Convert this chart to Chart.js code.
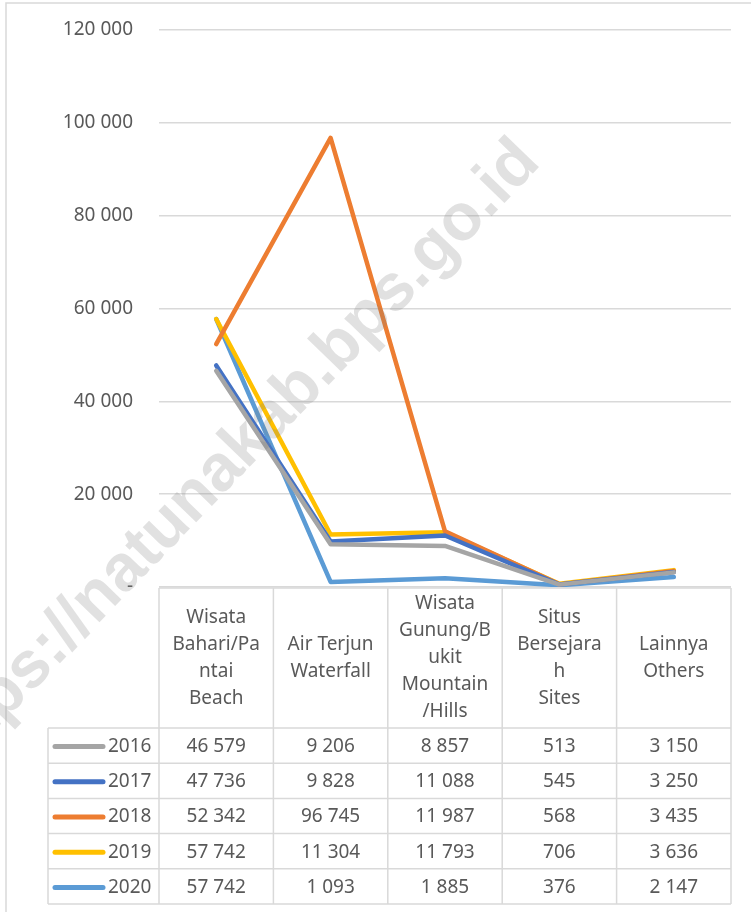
<!DOCTYPE html>
<html>
<head>
<meta charset="utf-8">
<script src="https://cdn.jsdelivr.net/npm/chart.js@4/dist/chart.umd.min.js"></script>
<style>
  html, body { margin: 0; padding: 0; background: #fff; }
  canvas { display: block; }
</style>
</head>
<body>
<canvas id="chart" width="751" height="912"></canvas>
<script>
// category labels, wrapped the way the data table shows them
const categories = [
  ["Wisata", "Bahari/Pa", "ntai", "Beach"],
  ["Air Terjun", "Waterfall"],
  ["Wisata", "Gunung/B", "ukit", "Mountain", "/Hills"],
  ["Situs", "Bersejara", "h", "Sites"],
  ["Lainnya", "Others"],
];

const years = ["2016", "2017", "2018", "2019", "2020"];
const values2016 = [46579, 9206, 8857, 513, 3150];
const values2017 = [47736, 9828, 11088, 545, 3250];
const values2018 = [52342, 96745, 11987, 568, 3435];
const values2019 = [57742, 11304, 11793, 706, 3636];
const values2020 = [57742, 1093, 1885, 376, 2147];
const seriesColors = ["#a5a5a5", "#4472c4", "#ed7d31", "#ffc000", "#5b9bd5"];

const Y_MAX = 120000;
const Y_STEP = 20000;
const WATERMARK = "https://natunakab.bps.go.id";

const FONT = "'Noto Sans', sans-serif";
const TEXT_COLOR = "#595959";
const LINE_COLOR = "#d9d9d9";

function fmt(n) {
  if (n === 0) return "-";
  return String(n).replace(/\B(?=(\d{3})+(?!\d))/g, " ");
}

const allValues = [values2016, values2017, values2018, values2019, values2020];

// data table under the plot, columns follow the x scale
const tablePlugin = {
  id: "dataTable",
  afterDraw(chart) {
    const { ctx, chartArea, scales } = chart;
    const x = scales.x;
    const band = (chartArea.right - chartArea.left) / categories.length;
    const top = chartArea.bottom + 1;
    const headerH = 140;
    const rowH = 35.2;
    const keyLeft = 48;
    const bodyTop = top + headerH;
    const bottom = bodyTop + rowH * years.length;

    ctx.save();
    ctx.strokeStyle = LINE_COLOR;
    ctx.lineWidth = 1.5;

    ctx.beginPath();
    ctx.moveTo(chartArea.left, top);
    ctx.lineTo(chartArea.right, top);
    ctx.stroke();

    // vertical column lines
    for (let i = 0; i <= categories.length; i++) {
      const cx = chartArea.left + band * i;
      ctx.beginPath();
      ctx.moveTo(cx, top);
      ctx.lineTo(cx, bottom);
      ctx.stroke();
    }
    // legend column left edge
    ctx.beginPath();
    ctx.moveTo(keyLeft, bodyTop);
    ctx.lineTo(keyLeft, bottom);
    ctx.stroke();

    // horizontal row lines
    for (let r = 0; r <= years.length; r++) {
      const ry = bodyTop + rowH * r;
      ctx.beginPath();
      ctx.moveTo(keyLeft, ry);
      ctx.lineTo(chartArea.right, ry);
      ctx.stroke();
    }

    ctx.fillStyle = TEXT_COLOR;
    ctx.font = "19px " + FONT;
    ctx.textBaseline = "middle";
    ctx.textAlign = "center";

    // header text
    const headMid = top + headerH / 2;
    categories.forEach((lines, i) => {
      const cx = x.getPixelForValue(i);
      lines.forEach((line, j) => {
        ctx.fillText(line, cx, headMid + (j - (lines.length - 1) / 2) * 27);
      });
    });

    // rows: legend key + values
    years.forEach((year, r) => {
      const cy = bodyTop + rowH * r + rowH / 2 + 1;
      ctx.strokeStyle = seriesColors[r];
      ctx.lineWidth = 5;
      ctx.lineCap = "round";
      ctx.beginPath();
      ctx.moveTo(55, cy);
      ctx.lineTo(103, cy);
      ctx.stroke();

      ctx.textAlign = "left";
      ctx.fillText(year, 108, cy);
      ctx.textAlign = "center";
      allValues[r].forEach((v, i) => {
        ctx.fillText(fmt(v), x.getPixelForValue(i), cy);
      });
    });

    // outer chart border
    ctx.strokeStyle = LINE_COLOR;
    ctx.lineWidth = 1.5;
    ctx.lineCap = "butt";
    ctx.strokeRect(6, 3, 760, 920);

    // watermark, anchored at the end of its baseline
    ctx.translate(542, 164);
    ctx.rotate(-46 * Math.PI / 180);
    ctx.font = "bold 66px 'Liberation Sans', sans-serif";
    ctx.fillStyle = "rgba(128,128,128,0.24)";
    ctx.textAlign = "right";
    ctx.textBaseline = "alphabetic";
    ctx.fillText(WATERMARK, 0, 0);
    ctx.restore();
  },
};

new Chart(document.getElementById("chart"), {
  type: "line",
  data: {
    labels: categories,
    datasets: years.map((year, i) => ({
      label: year,
      data: allValues[i],
      borderColor: seriesColors[i],
      backgroundColor: seriesColors[i],
      borderWidth: 4.5,
      borderCapStyle: "round",
      borderJoinStyle: "round",
      pointRadius: 0,
      tension: 0,
    })),
  },
  options: {
    responsive: false,
    animation: false,
    devicePixelRatio: 1,
    layout: { padding: { top: 30, right: 20, bottom: 325, left: 0 } },
    plugins: {
      legend: { display: false },
      tooltip: { enabled: false },
    },
    scales: {
      x: {
        type: "category",
        offset: true,
        display: false,
      },
      y: {
        min: 0,
        max: Y_MAX,
        afterFit(scale) { scale.width = 159; },
        border: { display: false },
        grid: {
          color: LINE_COLOR,
          lineWidth: 1.5,
          drawTicks: true,
          tickLength: 26,
          tickColor: "rgba(0,0,0,0)",
        },
        ticks: {
          stepSize: Y_STEP,
          padding: 0,
          color: TEXT_COLOR,
          font: { family: FONT, size: 19 },
          callback: (v) => fmt(v),
        },
      },
    },
  },
  plugins: [tablePlugin],
});
</script>
</body>
</html>
